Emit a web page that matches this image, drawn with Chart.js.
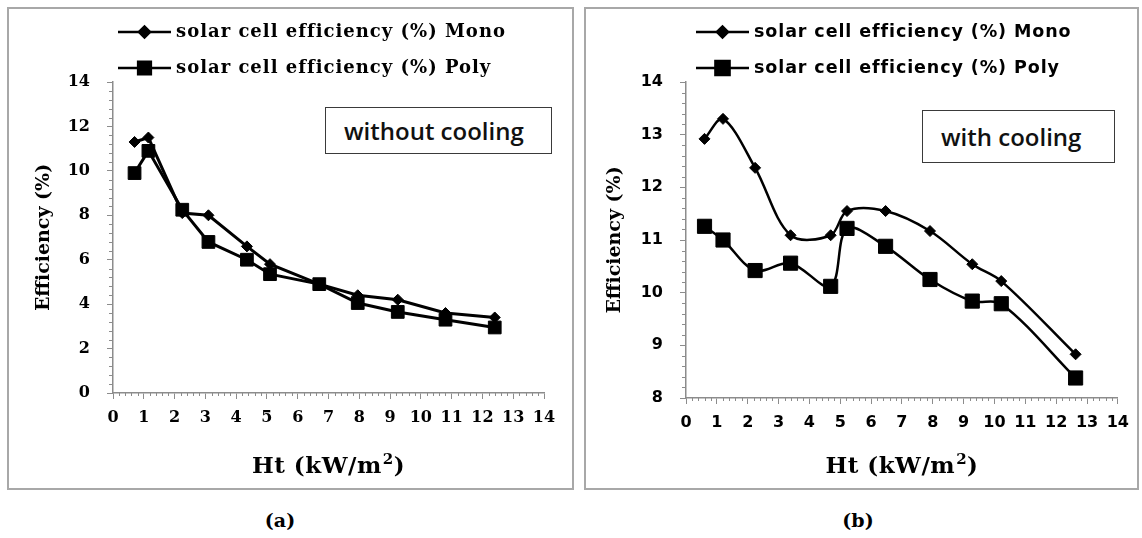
<!DOCTYPE html>
<html>
<head>
<meta charset="utf-8">
<script src="https://cdn.jsdelivr.net/npm/chart.js@4.4.0/dist/chart.umd.min.js"></script>
<style>
  body { margin: 0; background: #fff; width: 1142px; height: 538px; position: relative; overflow: hidden; }
  .panel { position: absolute; top: 7px; height: 483px; box-sizing: border-box; border: 2px solid #a8a8a8; }
  canvas { position: absolute; top: 8px; }
  .note { position: absolute; box-sizing: border-box; border: 1.5px solid #3a3a3a; background: #fff;
          font: 600 24px "Open Sans", sans-serif; color: #111; padding-left: 18px; display: flex; align-items: center; }
  .cap { position: absolute; top: 509px; width: 60px; text-align: center; font: bold 19px "DejaVu Serif", serif; }
</style>
</head>
<body>
<div class="panel" style="left:7px;width:567px"></div>
<div class="panel" style="left:584px;width:555px"></div>
<canvas id="chartA" width="565" height="481" style="left:8px"></canvas>
<canvas id="chartB" width="553" height="481" style="left:585px"></canvas>
<div class="note" style="left:325px;top:107px;width:227px;height:47px">without cooling</div>
<div class="note" style="left:922px;top:110px;width:193px;height:53px">with cooling</div>
<div class="cap" style="left:250px">(a)</div>
<div class="cap" style="left:828px">(b)</div>
<script>
// (a) without cooling
const htA = [0.7, 1.15, 2.25, 3.1, 4.35, 5.1, 6.7, 7.95, 9.25, 10.8, 12.4];
const monoA = [11.3, 11.5, 8.1, 8.0, 6.6, 5.8, 4.9, 4.4, 4.2, 3.6, 3.4];
const polyA = [9.9, 10.9, 8.25, 6.8, 6.0, 5.35, 4.9, 4.05, 3.65, 3.3, 2.95];

// (b) with cooling
const htB = [0.6, 1.2, 2.24, 3.39, 4.69, 5.22, 6.47, 7.91, 9.28, 10.22, 12.63];
const monoB = [12.92, 13.3, 12.37, 11.09, 11.09, 11.55, 11.55, 11.17, 10.54, 10.22, 8.83];
const polyB = [11.26, 11.0, 10.42, 10.56, 10.12, 11.22, 10.88, 10.25, 9.84, 9.79, 8.38];

const seriesNames = ['solar cell efficiency (%) Mono', 'solar cell efficiency (%) Poly'];
const xTitle = ['Ht (kW/m', '2', ')'];
const yTitle = 'Efficiency (%)';

Chart.defaults.color = '#000';

const toPoints = (xs, ys) => xs.map((x, i) => ({ x: x, y: ys[i] }));

// minor tick marks, the x title with its superscript, and the line+marker legend
const extras = {
  id: 'extras',
  afterDraw(chart, args, o) {
    const ctx = chart.ctx, xs = chart.scales.x, ys = chart.scales.y;
    ctx.save();
    ctx.strokeStyle = '#8c8c8c';
    ctx.lineWidth = 1;
    const nx = Math.round((xs.max - xs.min) / o.xMinor);
    const xEvery = Math.round(1 / o.xMinor);
    ctx.beginPath();
    for (let i = 1; i < nx; i++) {
      if (i % xEvery === 0) continue;
      const px = Math.round(xs.getPixelForValue(xs.min + i * o.xMinor)) + 0.5;
      ctx.moveTo(px, ys.bottom);
      ctx.lineTo(px, ys.bottom + 3);
    }
    const ny = Math.round((ys.max - ys.min) / o.yMinor);
    const yEvery = Math.round(o.yMajor / o.yMinor);
    for (let i = 1; i < ny; i++) {
      if (i % yEvery === 0) continue;
      const py = Math.round(ys.getPixelForValue(ys.min + i * o.yMinor)) + 0.5;
      ctx.moveTo(xs.left, py);
      ctx.lineTo(xs.left - 4, py);
    }
    ctx.stroke();

    // x title: "Ht (kW/m" + raised "2" + ")"
    ctx.fillStyle = '#000';
    ctx.textBaseline = 'alphabetic';
    ctx.letterSpacing = '0.5px';
    const big = 'bold 23px "DejaVu Serif"', small = 'bold 15px "DejaVu Serif"';
    ctx.font = big;
    const w0 = ctx.measureText(xTitle[0]).width, w2 = ctx.measureText(xTitle[2]).width;
    ctx.font = small;
    const w1 = ctx.measureText(xTitle[1]).width + 1;
    let tx = (xs.left + xs.right) / 2 - (w0 + w1 + w2) / 2;
    const base = o.titleBase;
    ctx.font = big;
    ctx.fillText(xTitle[0], tx, base);
    ctx.font = small;
    ctx.fillText(xTitle[1], tx + w0 + 1, base - 9);
    ctx.font = big;
    ctx.fillText(xTitle[2], tx + w0 + w1, base);

    chart.data.datasets.forEach((ds, i) => {
      const y = o.legendY[i];
      ctx.strokeStyle = '#000';
      ctx.fillStyle = '#000';
      ctx.lineWidth = 2.5;
      ctx.beginPath();
      ctx.moveTo(o.legendX[0], y);
      ctx.lineTo(o.legendX[1], y);
      ctx.stroke();
      Chart.helpers.drawPoint(ctx, { pointStyle: ds.pointStyle, radius: ds.pointRadius, rotation: 0, borderWidth: 1 },
        (o.legendX[0] + o.legendX[1]) / 2, y);
      ctx.font = o.legendFont;
      ctx.letterSpacing = o.legendSpacing;
      ctx.textBaseline = 'middle';
      ctx.fillText(ds.label, o.legendX[1] + 5, y);
    });
    ctx.restore();
  }
};

function makeChart(id, cfg) {
  const canvas = document.getElementById(id);
  const W = canvas.width, H = canvas.height;
  const tickFont = { family: cfg.tickFamily, size: cfg.tickSize, weight: 'bold' };
  const mkSet = (label, ys, style, radius) => ({
    label: label,
    data: toPoints(cfg.x, ys),
    showLine: true,
    borderColor: '#000',
    backgroundColor: '#000',
    borderWidth: cfg.lineWidth,
    pointStyle: style,
    pointRadius: radius,
    pointHoverRadius: radius,
    pointBorderWidth: 1,
    tension: cfg.tension,
    clip: false
  });
  return new Chart(canvas, {
    type: 'scatter',
    data: {
      datasets: [
        mkSet(seriesNames[0], cfg.mono, 'rectRot', cfg.diamond),
        mkSet(seriesNames[1], cfg.poly, 'rect', cfg.square)
      ]
    },
    options: {
      responsive: false,
      animation: false,
      layout: { padding: { top: cfg.area.top, right: W - cfg.area.right, left: 0, bottom: 0 } },
      plugins: {
        legend: { display: false },
        tooltip: { enabled: false },
        extras: cfg.extras
      },
      scales: {
        x: {
          type: 'linear', min: 0, max: 14,
          afterFit: s => { s.height = H - cfg.area.bottom; },
          ticks: { stepSize: 1, font: tickFont, padding: 9, maxRotation: 0, autoSkip: false },
          grid: { drawOnChartArea: false, tickLength: 6, color: '#8c8c8c' },
          border: { color: '#8c8c8c', width: 1.5 }
        },
        y: {
          type: 'linear', min: cfg.yMin, max: 14,
          afterFit: s => { s.width = cfg.area.left; },
          ticks: { stepSize: cfg.extras.yMajor, font: tickFont, padding: 17 },
          grid: { drawOnChartArea: false, tickLength: 6, color: '#8c8c8c' },
          border: { color: '#8c8c8c', width: 1.5 },
          title: { display: true, text: yTitle, font: { family: 'DejaVu Serif', size: 19, weight: 'bold' }, padding: { top: cfg.yTitlePad, bottom: 0 } }
        }
      }
    },
    plugins: [extras]
  });
}

makeChart('chartA', {
  x: htA, mono: monoA, poly: polyA, yMin: 0,
  area: { left: 105, top: 74, right: 536, bottom: 385 },
  tickFamily: 'DejaVu Serif', tickSize: 16, lineWidth: 3, tension: 0,
  diamond: 5.5, square: 9, yTitlePad: 25,
  extras: { xMinor: 0.2, yMajor: 2, yMinor: 0.4, legendX: [110, 163], legendY: [24, 60], titleBase: 465,
            legendFont: 'bold 18px "DejaVu Serif"', legendSpacing: '1px' }
});

makeChart('chartB', {
  x: htB, mono: monoB, poly: polyB, yMin: 8,
  area: { left: 101, top: 74, right: 536, bottom: 390 },
  tickFamily: 'DejaVu Sans', tickSize: 16, lineWidth: 2.5, tension: 0.33,
  diamond: 5.5, square: 10, yTitlePad: 19,
  extras: { xMinor: 0.2, yMajor: 1, yMinor: 0.2, legendX: [111, 164], legendY: [24, 60], titleBase: 465,
            legendFont: 'bold 17.5px "DejaVu Sans"', legendSpacing: '0.9px' }
});
</script>
</body>
</html>
